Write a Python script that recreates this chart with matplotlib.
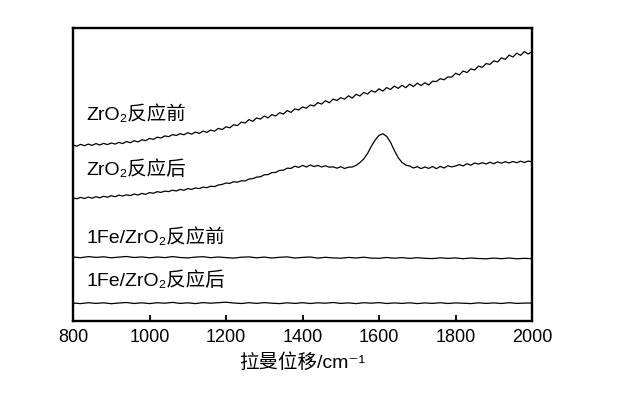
import numpy as np
import matplotlib
matplotlib.use("Agg")
import matplotlib.pyplot as plt

# ---- data: Raman spectra (arbitrary intensity units) ----
raman_shift = np.arange(800, 2001, 10)
raman_shift_flat = np.arange(800, 2001, 20)

zro2_before = [
    176.0, 174.8, 176.6, 175.3, 176.9, 175.6, 177.4, 176.0, 177.6, 176.4,
    178.0, 176.9, 178.6, 177.4, 179.5, 178.2, 180.3, 179.0, 181.2, 180.4,
    182.6, 181.6, 183.8, 183.0, 185.1, 184.3, 186.4, 185.5, 187.3, 186.2,
    188.3, 186.8, 188.9, 187.6, 189.9, 188.6, 191.0, 189.8, 192.6, 191.4,
    194.2, 193.2, 196.3, 195.4, 198.9, 198.0, 201.4, 199.7, 203.0, 201.9,
    205.0, 203.1, 206.4, 205.0, 208.3, 206.9, 210.4, 208.6, 212.1, 211.0,
    214.0, 212.8, 216.0, 215.0, 218.3, 216.9, 220.3, 218.2, 221.9, 220.5,
    223.3, 221.8, 225.2, 222.9, 226.7, 225.0, 228.6, 226.9, 230.4, 228.8,
    232.2, 229.9, 233.4, 231.5, 234.9, 232.6, 235.7, 233.3, 236.8, 234.4,
    237.8, 235.4, 238.2, 236.0, 239.8, 239.4, 242.3, 241.2, 244.1, 243.8,
    247.7, 246.1, 250.0, 248.4, 252.1, 251.0, 254.8, 253.7, 257.4, 256.6,
    260.2, 259.0, 263.2, 261.6, 265.9, 263.9, 267.8, 265.6, 269.4, 267.0,
    269.3,
]

zro2_after = [
    123.0, 122.2, 123.6, 122.5, 123.9, 122.8, 124.3, 123.2, 124.7, 123.8,
    125.3, 124.3, 125.8, 125.0, 126.2, 125.4, 126.9, 126.0, 127.6, 126.7,
    128.4, 127.7, 129.3, 128.6, 129.9, 129.4, 130.8, 130.0, 131.6, 130.7,
    132.4, 131.6, 133.0, 132.4, 133.9, 133.3, 134.8, 134.4, 136.0, 136.6,
    138.0, 137.6, 139.3, 138.8, 140.2, 140.1, 141.9, 142.4, 143.9, 144.2,
    146.2, 146.4, 148.4, 148.6, 150.6, 150.8, 152.8, 152.6, 154.8, 153.6,
    155.6, 154.0, 156.0, 154.4, 155.6, 154.0, 155.2, 153.8, 154.2, 152.8,
    154.3, 152.5, 153.8, 154.0, 155.6, 158.4, 162.0, 167.5, 174.8, 181.0,
    185.6, 187.2, 184.6, 178.8, 170.6, 163.4, 158.6, 155.9, 155.0, 153.0,
    154.3, 152.4, 154.0, 152.6, 154.5, 152.3, 154.6, 153.0, 155.2, 154.1,
    155.0, 156.4, 155.1, 157.3, 155.8, 158.0, 156.9, 158.3, 157.0, 158.7,
    157.3, 159.1, 157.8, 159.3, 158.0, 159.5, 158.3, 159.8, 158.5, 159.9,
    159.2,
]

fe_zro2_before = [
    64.0, 63.3, 64.4, 63.6, 64.2, 63.2, 63.9, 64.5, 63.5, 64.1,
    63.2, 64.0, 63.4, 64.4, 63.5, 63.1, 63.9, 64.3, 63.3, 64.0,
    63.4, 62.9, 63.8, 64.1, 63.2, 63.9, 63.0, 63.7, 64.1, 63.0,
    63.6, 64.0, 62.9, 63.7, 63.1, 62.8, 63.6, 63.0, 63.8, 62.9,
    62.7, 63.5, 62.8, 63.4, 62.6, 63.3, 62.7, 62.4, 63.2, 62.6,
    63.1, 62.3, 63.0, 62.5, 62.2, 62.9, 62.3, 63.0, 62.2, 62.7,
    62.3,
]

fe_zro2_after = [
    18.0, 17.4, 18.3, 17.6, 18.2, 17.3, 18.0, 18.5, 17.5, 18.2,
    17.4, 18.3, 17.8, 18.6, 17.6, 18.2, 17.4, 18.4, 17.8, 18.3,
    18.8, 18.0, 17.5, 18.3, 17.6, 18.4, 17.8, 17.4, 18.2, 17.6,
    18.3, 17.5, 18.2, 17.8, 18.5, 17.6, 18.1, 17.4, 18.3, 17.8,
    18.4, 17.5, 18.1, 17.6, 18.2, 17.4, 18.1, 17.6, 18.3, 17.5,
    18.1, 17.8, 17.4, 18.2, 17.6, 18.1, 17.5, 18.3, 17.6, 17.9,
    18.0,
]

labels = ["ZrO\u2082反应前", "ZrO\u2082反应后", "1Fe/ZrO\u2082反应前", "1Fe/ZrO\u2082反应后"]
label_y = [201, 146, 78, 35]
xticks = [800, 1000, 1200, 1400, 1600, 1800, 2000]

FONTS = ["Liberation Sans", "DejaVu Sans", "Noto Sans CJK SC"]
plt.rcParams["font.family"] = FONTS

fig = plt.figure(figsize=(6.42, 3.93), dpi=100)
ax = fig.add_axes([0.1137, 0.1832, 0.715, 0.7456])

ax.plot(raman_shift, zro2_before, color="black", lw=0.9)
ax.plot(raman_shift, zro2_after, color="black", lw=0.9)
ax.plot(raman_shift_flat, fe_zro2_before, color="black", lw=0.9)
ax.plot(raman_shift_flat, fe_zro2_after, color="black", lw=0.9)

for txt, y in zip(labels, label_y):
    ax.text(834, y, txt, fontsize=14, va="baseline", ha="left", family=FONTS)

ax.set_xlim(800, 2000)
ax.set_ylim(0, 293)
ax.set_xticks(xticks)
ax.set_yticks([])
ax.tick_params(axis="x", direction="in", length=4, width=1.3, labelsize=13, pad=6)
for s in ax.spines.values():
    s.set_linewidth(1.7)

ax.set_xlabel("拉曼位移/cm\u207b\u00b9", fontsize=14, labelpad=5, family=FONTS)

fig.savefig("out.png", dpi=100)
